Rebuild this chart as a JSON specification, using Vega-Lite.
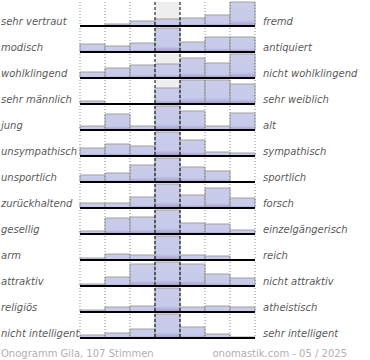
{
  "$schema": "https://vega.github.io/schema/vega-lite/v6.json",
  "autosize": {"type": "pad"},
  "padding": {"left": 1, "top": 1, "right": 0, "bottom": 0},
  "config": {"view": {"stroke": null}, "font": "DejaVu Sans"},
  "spacing": 9,
  "vconcat": [
    {
      "data": {"values": [
        {"r":1,"l":"sehr vertraut","rt":"fremd","c":1,"v":0},{"r":1,"l":"sehr vertraut","rt":"fremd","c":2,"v":2},{"r":1,"l":"sehr vertraut","rt":"fremd","c":3,"v":5},{"r":1,"l":"sehr vertraut","rt":"fremd","c":4,"v":7},{"r":1,"l":"sehr vertraut","rt":"fremd","c":5,"v":8},{"r":1,"l":"sehr vertraut","rt":"fremd","c":6,"v":11},{"r":1,"l":"sehr vertraut","rt":"fremd","c":7,"v":24},
        {"r":2,"l":"modisch","rt":"antiquiert","c":1,"v":8},{"r":2,"l":"modisch","rt":"antiquiert","c":2,"v":6},{"r":2,"l":"modisch","rt":"antiquiert","c":3,"v":9},{"r":2,"l":"modisch","rt":"antiquiert","c":4,"v":24},{"r":2,"l":"modisch","rt":"antiquiert","c":5,"v":10},{"r":2,"l":"modisch","rt":"antiquiert","c":6,"v":15},{"r":2,"l":"modisch","rt":"antiquiert","c":7,"v":15},
        {"r":3,"l":"wohlklingend","rt":"nicht wohlklingend","c":1,"v":6},{"r":3,"l":"wohlklingend","rt":"nicht wohlklingend","c":2,"v":10},{"r":3,"l":"wohlklingend","rt":"nicht wohlklingend","c":3,"v":13},{"r":3,"l":"wohlklingend","rt":"nicht wohlklingend","c":4,"v":14},{"r":3,"l":"wohlklingend","rt":"nicht wohlklingend","c":5,"v":20},{"r":3,"l":"wohlklingend","rt":"nicht wohlklingend","c":6,"v":15},{"r":3,"l":"wohlklingend","rt":"nicht wohlklingend","c":7,"v":24},
        {"r":4,"l":"sehr männlich","rt":"sehr weiblich","c":1,"v":3},{"r":4,"l":"sehr männlich","rt":"sehr weiblich","c":2,"v":0},{"r":4,"l":"sehr männlich","rt":"sehr weiblich","c":3,"v":0},{"r":4,"l":"sehr männlich","rt":"sehr weiblich","c":4,"v":16},{"r":4,"l":"sehr männlich","rt":"sehr weiblich","c":5,"v":24},{"r":4,"l":"sehr männlich","rt":"sehr weiblich","c":6,"v":24},{"r":4,"l":"sehr männlich","rt":"sehr weiblich","c":7,"v":20},
        {"r":5,"l":"\u00a0jung","rt":"alt","c":1,"v":4},{"r":5,"l":"\u00a0jung","rt":"alt","c":2,"v":16},{"r":5,"l":"\u00a0jung","rt":"alt","c":3,"v":4},{"r":5,"l":"\u00a0jung","rt":"alt","c":4,"v":24},{"r":5,"l":"\u00a0jung","rt":"alt","c":5,"v":19},{"r":5,"l":"\u00a0jung","rt":"alt","c":6,"v":4},{"r":5,"l":"\u00a0jung","rt":"alt","c":7,"v":17},
        {"r":6,"l":"unsympathisch","rt":"sympathisch","c":1,"v":8},{"r":6,"l":"unsympathisch","rt":"sympathisch","c":2,"v":12},{"r":6,"l":"unsympathisch","rt":"sympathisch","c":3,"v":10},{"r":6,"l":"unsympathisch","rt":"sympathisch","c":4,"v":24},{"r":6,"l":"unsympathisch","rt":"sympathisch","c":5,"v":16},{"r":6,"l":"unsympathisch","rt":"sympathisch","c":6,"v":4},{"r":6,"l":"unsympathisch","rt":"sympathisch","c":7,"v":3},
        {"r":7,"l":"unsportlich","rt":"sportlich","c":1,"v":7},{"r":7,"l":"unsportlich","rt":"sportlich","c":2,"v":9},{"r":7,"l":"unsportlich","rt":"sportlich","c":3,"v":17},{"r":7,"l":"unsportlich","rt":"sportlich","c":4,"v":24},{"r":7,"l":"unsportlich","rt":"sportlich","c":5,"v":15},{"r":7,"l":"unsportlich","rt":"sportlich","c":6,"v":11},{"r":7,"l":"unsportlich","rt":"sportlich","c":7,"v":0},
        {"r":8,"l":"zurückhaltend","rt":"forsch","c":1,"v":5},{"r":8,"l":"zurückhaltend","rt":"forsch","c":2,"v":5},{"r":8,"l":"zurückhaltend","rt":"forsch","c":3,"v":11},{"r":8,"l":"zurückhaltend","rt":"forsch","c":4,"v":24},{"r":8,"l":"zurückhaltend","rt":"forsch","c":5,"v":13},{"r":8,"l":"zurückhaltend","rt":"forsch","c":6,"v":20},{"r":8,"l":"zurückhaltend","rt":"forsch","c":7,"v":10},
        {"r":9,"l":"gesellig","rt":"einzelgängerisch","c":1,"v":3},{"r":9,"l":"gesellig","rt":"einzelgängerisch","c":2,"v":16},{"r":9,"l":"gesellig","rt":"einzelgängerisch","c":3,"v":17},{"r":9,"l":"gesellig","rt":"einzelgängerisch","c":4,"v":24},{"r":9,"l":"gesellig","rt":"einzelgängerisch","c":5,"v":11},{"r":9,"l":"gesellig","rt":"einzelgängerisch","c":6,"v":10},{"r":9,"l":"gesellig","rt":"einzelgängerisch","c":7,"v":4},
        {"r":10,"l":"arm","rt":"reich","c":1,"v":2},{"r":10,"l":"arm","rt":"reich","c":2,"v":6},{"r":10,"l":"arm","rt":"reich","c":3,"v":5},{"r":10,"l":"arm","rt":"reich","c":4,"v":24},{"r":10,"l":"arm","rt":"reich","c":5,"v":5},{"r":10,"l":"arm","rt":"reich","c":6,"v":4},{"r":10,"l":"arm","rt":"reich","c":7,"v":0},
        {"r":11,"l":"attraktiv","rt":"nicht attraktiv","c":1,"v":2},{"r":11,"l":"attraktiv","rt":"nicht attraktiv","c":2,"v":9},{"r":11,"l":"attraktiv","rt":"nicht attraktiv","c":3,"v":22},{"r":11,"l":"attraktiv","rt":"nicht attraktiv","c":4,"v":24},{"r":11,"l":"attraktiv","rt":"nicht attraktiv","c":5,"v":22},{"r":11,"l":"attraktiv","rt":"nicht attraktiv","c":6,"v":12},{"r":11,"l":"attraktiv","rt":"nicht attraktiv","c":7,"v":8},
        {"r":12,"l":"religiös","rt":"atheistisch","c":1,"v":2},{"r":12,"l":"religiös","rt":"atheistisch","c":2,"v":5},{"r":12,"l":"religiös","rt":"atheistisch","c":3,"v":6},{"r":12,"l":"religiös","rt":"atheistisch","c":4,"v":24},{"r":12,"l":"religiös","rt":"atheistisch","c":5,"v":5},{"r":12,"l":"religiös","rt":"atheistisch","c":6,"v":6},{"r":12,"l":"religiös","rt":"atheistisch","c":7,"v":5},
        {"r":13,"l":"nicht intelligent","rt":"sehr intelligent","c":1,"v":3},{"r":13,"l":"nicht intelligent","rt":"sehr intelligent","c":2,"v":5},{"r":13,"l":"nicht intelligent","rt":"sehr intelligent","c":3,"v":9},{"r":13,"l":"nicht intelligent","rt":"sehr intelligent","c":4,"v":24},{"r":13,"l":"nicht intelligent","rt":"sehr intelligent","c":5,"v":11},{"r":13,"l":"nicht intelligent","rt":"sehr intelligent","c":6,"v":4},{"r":13,"l":"nicht intelligent","rt":"sehr intelligent","c":7,"v":1}
      ]},
      "facet": {"row": {"field": "r", "type": "ordinal", "title": null, "header": {"labels": false, "title": null}}},
      "spacing": {"row": 2},
      "bounds": "flush",
      "spec": {
        "width": 175,
        "height": 24,
        "encoding": {
          "x": {"field": "c", "type": "ordinal", "scale": {"paddingInner": 0, "paddingOuter": 0}, "axis": null}
        },
        "layer": [
          {
            "transform": [{"filter": "datum.c == 4"}],
            "mark": {"type": "bar", "color": "#eeeeee"},
            "encoding": {"y": {"datum": 24, "type": "quantitative", "scale": {"domain": [0, 24], "nice": false}, "axis": null}}
          },
          {
            "mark": {"type": "bar", "stroke": "#a0a0a0", "strokeWidth": 1,
              "fill": {"gradient": "linear", "x1": 0, "y1": 0, "x2": 0, "y2": 1,
                "stops": [{"offset": 0, "color": "#cccbea"}, {"offset": 0.75, "color": "#c5cbea"}, {"offset": 1, "color": "#a796c8"}]}},
            "encoding": {"y": {"field": "v", "type": "quantitative", "scale": {"domain": [0, 24], "nice": false}, "axis": null}}
          },
          {
            "transform": [{"filter": "datum.c != 4 && datum.c != 5"}],
            "mark": {"type": "rule", "color": "#888888", "strokeWidth": 1, "strokeDash": [1, 2]},
            "encoding": {"x": {"field": "c", "type": "ordinal", "bandPosition": 0}}
          },
          {
            "transform": [{"filter": "datum.c == 7"}],
            "mark": {"type": "rule", "color": "#888888", "strokeWidth": 1, "strokeDash": [1, 2]},
            "encoding": {"x": {"field": "c", "type": "ordinal", "bandPosition": 1}}
          },
          {
            "transform": [{"filter": "datum.c == 4 || datum.c == 5"}],
            "mark": {"type": "rule", "color": "#000000", "strokeWidth": 1, "strokeDash": [3, 2]},
            "encoding": {"x": {"field": "c", "type": "ordinal", "bandPosition": 0}}
          },
          {
            "transform": [{"filter": "datum.c == 1"}],
            "mark": {"type": "rule", "color": "#000000", "strokeWidth": 2},
            "encoding": {"x": null, "y": {"datum": 0, "type": "quantitative"}}
          },
          {
            "transform": [{"filter": "datum.c == 1"}],
            "mark": {"type": "text", "align": "left", "baseline": "alphabetic", "dx": -79, "fontSize": 10, "fontStyle": "italic", "color": "#5a5a5a"},
            "encoding": {"x": {"field": "c", "type": "ordinal", "bandPosition": 0}, "y": {"datum": 1.5, "type": "quantitative"}, "text": {"field": "l"}}
          },
          {
            "transform": [{"filter": "datum.c == 7"}],
            "mark": {"type": "text", "align": "left", "baseline": "alphabetic", "dx": 8, "fontSize": 10, "fontStyle": "italic", "color": "#5a5a5a"},
            "encoding": {"x": {"field": "c", "type": "ordinal", "bandPosition": 1}, "y": {"datum": 1.5, "type": "quantitative"}, "text": {"field": "rt"}}
          }
        ]
      }
    },
    {
      "width": 267,
      "height": 12,
      "layer": [
        {
          "data": {"values": [{"t": "Onogramm Gila, 107 Stimmen"}]},
          "mark": {"type": "text", "align": "left", "dx": -79, "fontSize": 10, "color": "#b0b0b0"},
          "encoding": {"x": {"datum": 0, "type": "quantitative", "scale": {"domain": [0, 1]}, "axis": null}, "text": {"field": "t"}}
        },
        {
          "data": {"values": [{"t": "onomastik.com - 05 / 2025"}]},
          "mark": {"type": "text", "align": "right", "fontSize": 10, "color": "#b0b0b0"},
          "encoding": {"x": {"datum": 1, "type": "quantitative", "scale": {"domain": [0, 1]}, "axis": null}, "text": {"field": "t"}}
        }
      ]
    }
  ]
}
